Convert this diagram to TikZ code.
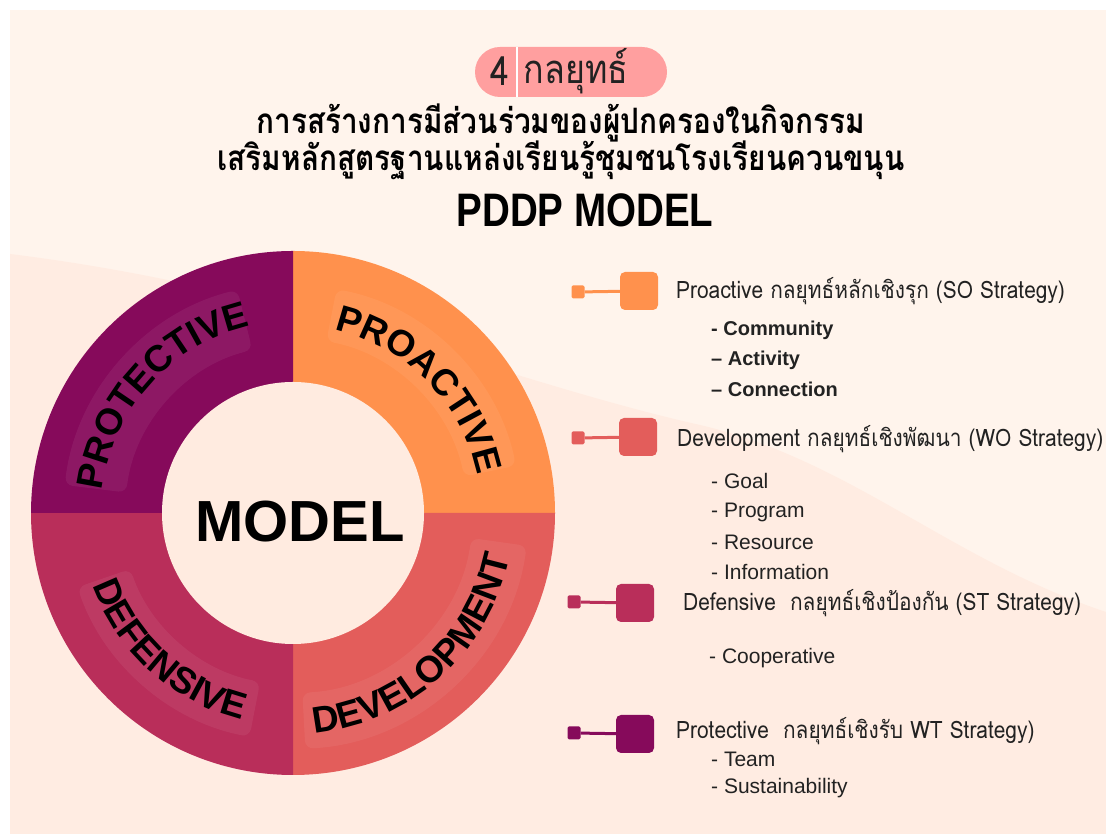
\documentclass[tikz,border=0pt]{standalone}
\usepackage{fontspec}
\usetikzlibrary{decorations.text}
\setmainfont{Liberation Sans}
\newfontfamily\thaifont[Script=Thai]{Loma}
\newfontfamily\thaicond[Script=Thai,FakeStretch=0.85]{Loma}
\newfontfamily\thaileg[Script=Thai,FakeStretch=0.87]{Loma}
\newfontfamily\condsans[FakeStretch=0.82]{Liberation Sans}
\definecolor{cOr}{HTML}{FF914D}
\definecolor{cCo}{HTML}{E35D5B}
\definecolor{cRa}{HTML}{B92E5A}
\definecolor{cMa}{HTML}{860A5B}
\definecolor{bgA}{HTML}{FFF4EC}
\definecolor{bgB}{HTML}{FFECE2}
\definecolor{inner}{HTML}{FFEBE0}
\definecolor{pill}{HTML}{FF9F9F}
\definecolor{ink}{HTML}{222222}
\newcommand{\ringband}[4]{%
  \fill[white, opacity=0.06, rounded corners=8pt]
    ([shift={(#1:#4)}]C) arc[start angle=#1,end angle=#2,radius=#4]
    -- ([shift={(#2:#3)}]C) arc[start angle=#2,end angle=#1,radius=#3] -- cycle;}
\tikzset{
  ringtext/.style={decorate, decoration={text along path, text align=center, text={|\bfseries\fontsize{37}{37}\selectfont|#1}}},
  smallsq/.style={fill=#1, minimum size=13pt, inner sep=0pt, rounded corners=1.5pt},
  bigsq/.style={fill=#1, minimum size=38pt, inner sep=0pt, rounded corners=5pt},
  link/.style={draw=#1, line width=3pt},
  legtext/.style={anchor=west, text=ink, inner sep=0pt, font=\thaileg\fontsize{24}{24}\selectfont},
  subtext/.style={anchor=west, text=ink, inner sep=0pt, font=\fontsize{21}{21}\selectfont},
  subbold/.style={anchor=west, text=ink, inner sep=0pt, font=\bfseries\fontsize{20}{20}\selectfont},
}
\begin{document}
\begin{tikzpicture}[x=1pt,y=1pt]
\path[use as bounding box] (0,0) rectangle (1106,834);
\fill[white] (0,0) rectangle (1106,834);
\fill[bgA] (10,0) rectangle (1106,824);
\fill[bgB] (10,580) .. controls (300,544) and (500,454) .. (700,409)
  .. controls (850,374) and (950,274) .. (1106,222) -- (1106,0) -- (10,0) -- cycle;

% title
\fill[pill, rounded corners=25pt] (475,737) rectangle (667,787);
\draw[white, line width=1.5pt] (517,737) -- (517,787);
\node[text=ink, font=\thaicond\fontsize{40}{40}\selectfont] (four) at (500,763) {4};
\node[text=ink, font=\thaicond\fontsize{40}{40}\selectfont] (kl) at (576,763) {กลยุทธ์};
\node[font=\thaicond\bfseries\fontsize{35}{35}\selectfont] (t1) at (561,711) {การสร้างการมีส่วนร่วมของผู้ปกครองในกิจกรรม};
\node[font=\thaicond\bfseries\fontsize{35}{35}\selectfont] (t2) at (561,674) {เสริมหลักสูตรฐานแหล่งเรียนรู้ชุมชนโรงเรียนควนขนุน};
\node[font=\condsans\bfseries\fontsize{47}{47}\selectfont] (t3) at (585,624) {PDDP MODEL};

% ring
\coordinate (C) at (293,321);
\fill[cOr] (C) -- ([shift={(90:262)}]C) arc[start angle=90,end angle=0,radius=262] -- cycle;
\fill[cCo] (C) -- ([shift={(0:262)}]C) arc[start angle=0,end angle=-90,radius=262] -- cycle;
\fill[cRa] (C) -- ([shift={(270:262)}]C) arc[start angle=270,end angle=180,radius=262] -- cycle;
\fill[cMa] (C) -- ([shift={(180:262)}]C) arc[start angle=180,end angle=90,radius=262] -- cycle;
\ringband{12}{79}{175}{228}
\ringband{104}{173}{168}{230}
\ringband{199}{259}{172}{228}
\ringband{273}{352}{180}{236}
\fill[inner] (C) circle[radius=131];
\path[ringtext=PROACTIVE] ([shift={(84:188)}]C) arc[start angle=84,end angle=5,radius=188];
\path[ringtext=PROTECTIVE] ([shift={(176:192)}]C) arc[start angle=176,end angle=100,radius=192];
\path[ringtext=DEFENSIVE] ([shift={(188:213)}]C) arc[start angle=188,end angle=268,radius=213];
\path[ringtext=DEVELOPMENT] ([shift={(268:221)}]C) arc[start angle=268,end angle=356,radius=221];
\node[font=\bfseries\fontsize{58}{58}\selectfont] (model) at (300,312) {MODEL};

% legend
\node[smallsq=cOr] (s1) at (578,542) {};
\node[bigsq=cOr] (b1) at (639,543) {};
\draw[link=cOr] (s1) -- (b1);
\node[legtext] (l1) at (676,543) {Proactive กลยุทธ์หลักเชิงรุก (SO Strategy)};
\node[subbold] (l1a) at (711,504) {- Community};
\node[subbold] (l1b) at (711,474) {– Activity};
\node[subbold] (l1c) at (711,445) {– Connection};

\node[smallsq=cCo] (s2) at (578,396) {};
\node[bigsq=cCo] (b2) at (638,397) {};
\draw[link=cCo] (s2) -- (b2);
\node[legtext] (l2) at (677,395) {Development กลยุทธ์เชิงพัฒนา (WO Strategy)};
\node[subtext] (l2a) at (711,353) {- Goal};
\node[subtext] (l2b) at (711,322) {- Program};
\node[subtext] (l2c) at (711,292) {- Resource};
\node[subtext] (l2d) at (711,262) {- Information};

\node[smallsq=cRa] (s3) at (574,232) {};
\node[bigsq=cRa] (b3) at (635,231) {};
\draw[link=cRa] (s3) -- (b3);
\node[legtext] (l3) at (683,231) {Defensive\ \ กลยุทธ์เชิงป้องกัน (ST Strategy)};
\node[subtext] (l3a) at (709,176) {- Cooperative};

\node[smallsq=cMa] (s4) at (574,101) {};
\node[bigsq=cMa] (b4) at (635,100) {};
\draw[link=cMa] (s4) -- (b4);
\node[legtext] (l4) at (676,103) {Protective\ \ กลยุทธ์เชิงรับ WT Strategy)};
\node[subtext] (l4a) at (711,75) {- Team};
\node[subtext] (l4b) at (711,46) {- Sustainability};
\end{tikzpicture}
\end{document}
